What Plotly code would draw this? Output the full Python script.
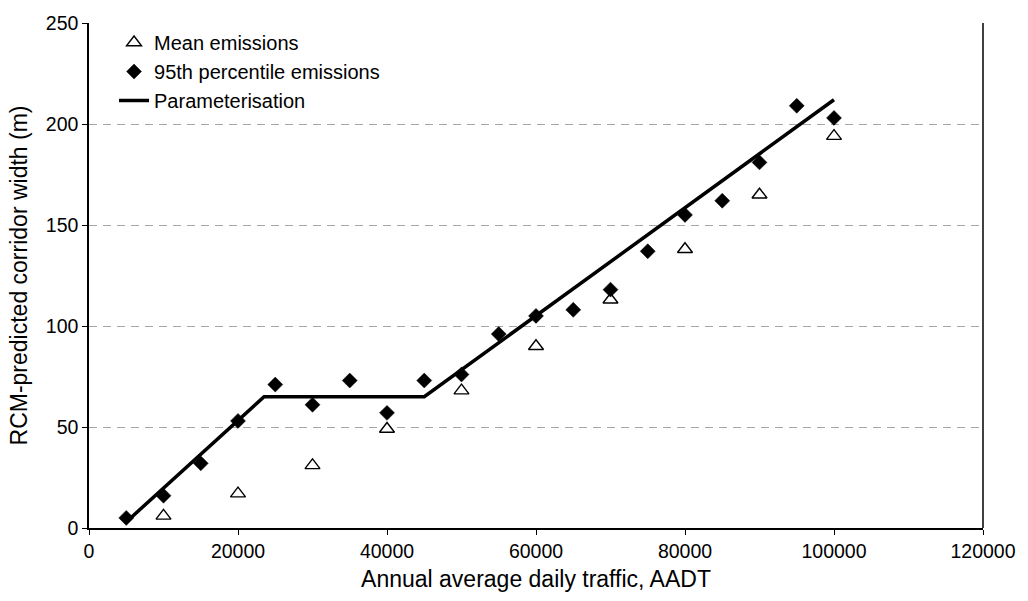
import plotly.graph_objects as go

# Data
aadt_mean = [10000, 20000, 30000, 40000, 50000, 60000, 70000, 80000, 90000, 100000]
mean_width = [6, 17, 31, 49, 68, 90, 113, 138, 165, 194]

aadt_p95 = [5000, 10000, 15000, 20000, 25000, 30000, 35000, 40000, 45000, 50000,
            55000, 60000, 65000, 70000, 75000, 80000, 85000, 90000, 95000, 100000]
p95_width = [5, 16, 32, 53, 71, 61, 73, 57, 73, 76,
             96, 105, 108, 118, 137, 155, 162, 181, 209, 203]

param_x = [5000, 23500, 45000, 100000]
param_y = [3, 65, 65, 212]

x_ticks = [0, 20000, 40000, 60000, 80000, 100000, 120000]
y_ticks = [0, 50, 100, 150, 200, 250]

FONT = "Liberation Sans, Arial, sans-serif"

fig = go.Figure()

fig.add_trace(go.Scatter(
    x=param_x, y=param_y, mode="lines", name="Parameterisation",
    line=dict(color="black", width=3.5), legendrank=3))

fig.add_trace(go.Scatter(
    x=aadt_mean, y=mean_width, mode="markers", name="Mean emissions",
    marker=dict(symbol="triangle-up", size=13, color="white",
                line=dict(color="black", width=1.4)), legendrank=1))

fig.add_trace(go.Scatter(
    x=aadt_p95, y=p95_width, mode="markers", name="95th percentile emissions",
    marker=dict(symbol="diamond", size=11.5, color="black",
                line=dict(color="black", width=0.5)), legendrank=2))

fig.update_layout(
    width=1028, height=601,
    margin=dict(l=89, r=36, t=16, b=73),
    paper_bgcolor="white", plot_bgcolor="white",
    font=dict(family=FONT, size=19.5, color="black"),
    showlegend=True,
    legend=dict(x=0.028, y=1.0, xanchor="left", yanchor="top",
                bgcolor="rgba(0,0,0,0)", font=dict(size=20),
                tracegroupgap=0, itemwidth=30),
    xaxis=dict(
        range=[0, 120000], tickvals=x_ticks,
        ticktext=[str(v) for v in x_ticks],
        showgrid=False, zeroline=False,
        showline=True, linecolor="black", linewidth=1.5,
        ticks="outside", ticklen=5, tickcolor="black",
        title=dict(text="Annual average daily traffic, AADT",
                   font=dict(size=23), standoff=10),
    ),
    yaxis=dict(
        range=[0, 250], tickvals=y_ticks,
        showgrid=True, gridcolor="#a6a6a6", gridwidth=1, griddash="8px,6px",
        zeroline=False,
        showline=True, linecolor="black", linewidth=1.5,
        ticks="outside", ticklen=5, tickcolor="black",
        title=dict(text="RCM-predicted corridor width (m)",
                   font=dict(size=23), standoff=12),
    ),
    shapes=[dict(type="line", xref="paper", yref="paper", x0=1, x1=1, y0=0, y1=1,
                 line=dict(color="black", width=1.5))],
)

fig.write_html("out.html")
